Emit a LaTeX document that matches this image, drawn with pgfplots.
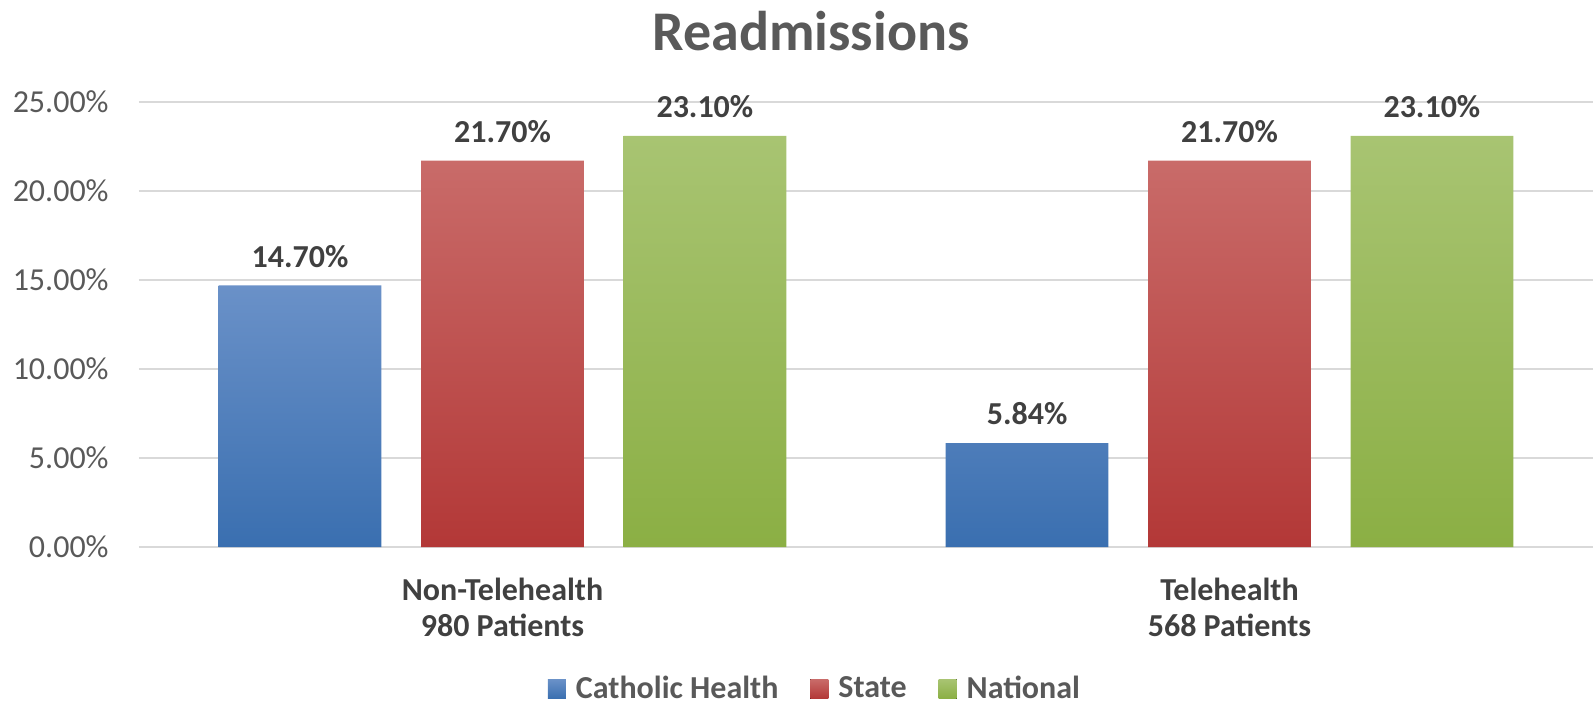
\documentclass[border=0pt]{standalone}
\usepackage{fontspec}
\setmainfont{Carlito}
\usepackage{pgfplots}
\pgfplotsset{compat=1.18}
\definecolor{blueT}{HTML}{6A91C8}
\definecolor{blueB}{HTML}{3A6FB0}
\definecolor{redT}{HTML}{C96B69}
\definecolor{redB}{HTML}{B33837}
\definecolor{greenT}{HTML}{A8C472}
\definecolor{greenB}{HTML}{8BAF44}
\definecolor{txt}{HTML}{595959}
\definecolor{lbl}{HTML}{404040}
\definecolor{gridc}{HTML}{D9D9D9}
\begin{document}
\begin{tikzpicture}
\path[use as bounding box] (-69.5pt,-77.5pt) rectangle (728pt,273.5pt);
\begin{axis}[
  scale only axis, width=727pt, height=222.5pt,
  xmin=-0.5, xmax=1.5, ymin=0, ymax=25,
  ytick={0,5,...,25},
  xtick={0,1},
  xticklabels={{Non-Telehealth\\980 Patients},{Telehealth\\568 Patients}},
  /pgf/number format/assume math mode=true,
  yticklabel={\pgfmathprintnumber[fixed,fixed zerofill,precision=2]{\tick}\%},
  yticklabel style={font=\fontsize{16}{19}\selectfont, text=txt, anchor=east, inner sep=0pt, xshift=-15pt},
  xticklabel style={font=\bfseries\fontsize{16}{18}\selectfont, text=lbl, align=center, anchor=north, inner sep=0pt, yshift=-15.5pt},
  major tick length=0pt,
  axis line style={draw=none},
  ymajorgrids, grid style={draw=gridc, line width=0.9pt},
  legend style={at={(0.4656,-0.319)}, anchor=center, draw=none, fill=none,
    legend columns=3, font=\bfseries\fontsize{16}{19}\selectfont, text=txt,
    /tikz/every odd column/.append style={column sep=3pt},
    /tikz/every even column/.append style={column sep=14pt}},
  legend image code/.code={\fill[#1] (0pt,-4.8pt) rectangle (9pt,4.8pt);},
  nodes near coords={\pgfmathprintnumber[fixed,fixed zerofill,precision=2]{\pgfplotspointmeta}\%},
  every node near coord/.append style={font=\bfseries\fontsize{16}{19}\selectfont, text=lbl, anchor=center, yshift=14.5pt},
]
\addplot[ybar, bar width=0.224, bar shift=-0.2785, draw=none, top color=blueT, bottom color=blueB,
  every node near coord/.append style={xshift=-101.2pt}]
  coordinates {(0,14.70) (1,5.84)};
\addlegendentry{Catholic Health}
\addplot[ybar, bar width=0.224, bar shift=0, draw=none, top color=redT, bottom color=redB]
  coordinates {(0,21.70) (1,21.70)};
\addlegendentry{State}
\addplot[ybar, bar width=0.224, bar shift=0.2785, draw=none, top color=greenT, bottom color=greenB,
  every node near coord/.append style={xshift=101.2pt}]
  coordinates {(0,23.10) (1,23.10)};
\addlegendentry{National}
\end{axis}
\node[font=\bfseries\fontsize{28}{34}\selectfont, text=txt] at (336pt,258pt) {Readmissions};
\end{tikzpicture}
\end{document}
